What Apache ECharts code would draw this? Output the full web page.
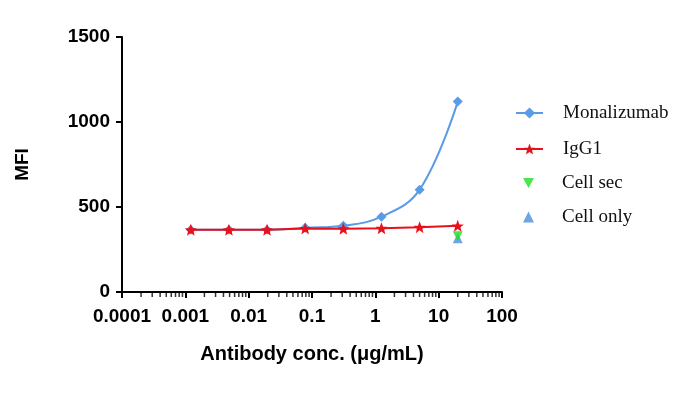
<!DOCTYPE html>
<html><head><meta charset="utf-8">
<script src="https://cdn.jsdelivr.net/npm/echarts@6/dist/echarts.min.js"></script>
<style>html,body{margin:0;padding:0;background:#fff}#c{width:698px;height:398px}</style>
</head><body><div id="c"></div>
<script>
const conc = [0.00122, 0.00488, 0.0195, 0.078, 0.3125, 1.25, 5, 20];
const monalizumab = [366, 366, 366, 378, 390, 443, 602, 1120];
const igg1 = [366, 366, 366, 374, 372, 375, 381, 389];
const cellSecConc = [20];
const cellSec = [328];
const cellOnlyConc = [20];
const cellOnly = [316];
const minorTicks = [];
[0.0001, 0.001, 0.01, 0.1, 1, 10].forEach(d => { for (let k = 2; k <= 9; k++) minorTicks.push(+(d * k).toPrecision(3)); });

const pair = (xs, ys) => xs.map((x, i) => [x, ys[i]]);
const chart = echarts.init(document.getElementById('c'));
const labelFont = { fontFamily: 'Liberation Sans, Arial', fontWeight: 'bold', fontSize: 19, color: '#000' };
const legendText = { fontFamily: 'Liberation Serif, Times New Roman', fontSize: 19, color: '#111', lineHeight: 22 };
chart.setOption({
  animation: false,
  grid: { left: 122, right: 196, top: 37, bottom: 106, containLabel: false },
  xAxis: {
    type: 'log', logBase: 10, min: 0.0001, max: 100,
    name: 'Antibody conc. (μg/mL)', nameLocation: 'middle', nameGap: 52,
    nameTextStyle: { fontFamily: 'Liberation Sans, Arial', fontWeight: 'bold', fontSize: 20, color: '#000' },
    axisLine: { lineStyle: { color: '#000', width: 2 } },
    axisTick: { inside: false, length: 6, lineStyle: { color: '#000', width: 2 } },
    axisLabel: Object.assign({ margin: 15, formatter: v => String(Number(v.toPrecision(6))) }, labelFont),
    splitLine: { show: false }
  },
  yAxis: {
    type: 'value', min: 0, max: 1500, interval: 500,
    name: 'MFI', nameLocation: 'middle', nameGap: 90, nameRotate: 90,
    nameTextStyle: { fontFamily: 'Liberation Sans, Arial', fontWeight: 'bold', fontSize: 19, color: '#000' },
    axisLine: { show: true, lineStyle: { color: '#000', width: 2 } },
    axisTick: { show: true, length: 6, lineStyle: { color: '#000', width: 2 } },
    axisLabel: Object.assign({ margin: 12, formatter: v => String(v) }, labelFont),
    splitLine: { show: false }
  },
  legend: [
    { orient: 'vertical', left: 515, top: 102, padding: 0, itemWidth: 27, itemHeight: 14, itemGap: 14,
      textStyle: Object.assign({ padding: [0, 0, 0, 15] }, legendText),
      data: ['Monalizumab', 'IgG1'] },
    { orient: 'vertical', left: 523, top: 172, padding: 0, itemWidth: 11, itemHeight: 11, itemGap: 12,
      textStyle: Object.assign({ padding: [0, 0, 0, 23] }, legendText),
      data: ['Cell sec', 'Cell only'] }
  ],
  series: [
    { name: 'minor', type: 'scatter', silent: true, clip: false, data: minorTicks.map(x => [x, 0]),
      symbol: 'rect', symbolSize: [1.5, 4], symbolOffset: [0, 3], itemStyle: { color: '#000' }, z: 1 },
    { name: 'Monalizumab', type: 'line', smooth: 0.4, data: pair(conc, monalizumab),
      symbol: 'diamond', symbolSize: 10, lineStyle: { color: '#5a9be6', width: 2 }, itemStyle: { color: '#5a9be6' }, z: 3 },
    { name: 'IgG1', type: 'line', data: pair(conc, igg1),
      symbol: 'path://M12,1 L15,9 L23,9 L17,14 L19,22 L12,17 L5,22 L7,14 L1,9 L9,9 Z', symbolSize: 12,
      lineStyle: { color: '#e8101a', width: 2 }, itemStyle: { color: '#e8101a' }, z: 4 },
    { name: 'Cell only', type: 'scatter', data: pair(cellOnlyConc, cellOnly),
      symbol: 'triangle', symbolSize: 10, itemStyle: { color: '#4a8fe0' }, z: 5 },
    { name: 'Cell sec', type: 'scatter', data: pair(cellSecConc, cellSec),
      symbol: 'path://M0,0 L10,0 L5,9 Z', symbolSize: 10, itemStyle: { color: '#1ee01e' }, z: 6 }
  ]
});
</script></body></html>
